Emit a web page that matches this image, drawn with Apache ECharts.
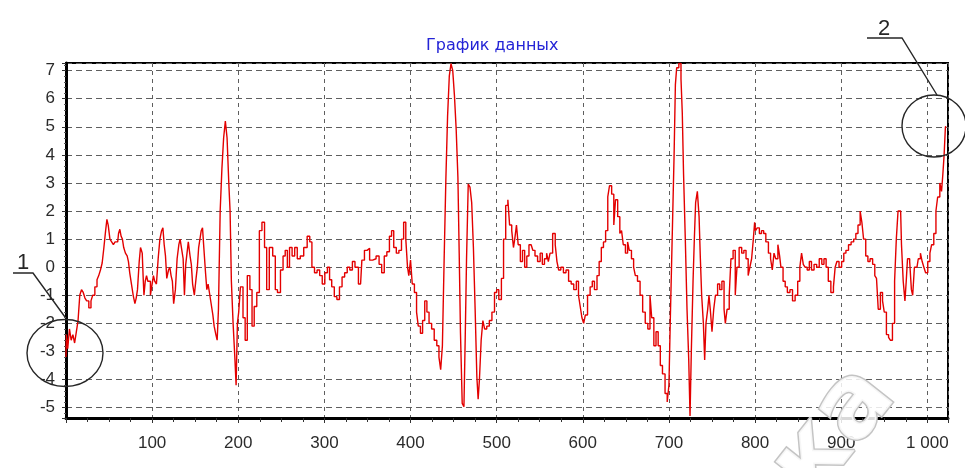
<!DOCTYPE html>
<html><head><meta charset="utf-8">
<script src="https://cdn.jsdelivr.net/npm/echarts@6/dist/echarts.min.js"></script>
<style>html,body{margin:0;padding:0;background:#fff}#c{width:965px;height:468px}</style>
</head><body><div id="c"></div>
<script>
const chartTitle = 'График данных';
const sampleX = [
0,1,3,5,7,9,11,13,15,17,19,21,23,25,28,30,32,35,37,39,41,43,45,47,48,50,52,54,56,58,60,62,63,65,66,68,70,72,73,75,77,79,81,82,84,86,87,88,89,90,91,93,94,96,97,99,101,102,104,106,108,110,112,113,115,116,118,120,121,123,124,126,128,130,132,133,135,137,138,140,141,143,145,146,148,150,152,153,155,156,158,159,161,163,164,166,168,170,171,173,175,176,178,180,182,184,186,188,190,191,193,195,197,198,
200,201,204,207,209,212,215,217,220,223,226,229,232,234,238,242,244,247,251,253,256,258,261,264,267,270,274,278,282,284,287,290,293,296,299,302,305,307,310,313,316,319,322,325,328,331,334,
337,342,345,348,351,354,358,362,365,368,371,374,377,379,382,385,388,391,393,396,397,399,401,403,406,408,410,413,415,418,420,423,426,429,432,434,436,438,440,442,444,446,448,450,452,454,456,457,459,461,463,464,466,468,470,472,474,476,478,479,481,483,485,487,490,493,496,499,501,504,
507,509,512,514,516,519,520,522,524,526,529,531,534,536,539,541,543,546,549,552,554,557,559,561,563,567,569,571,573,576,579,582,585,588,591,594,596,598,600,602,604,607,610,612,615,618,620,623,625,628,630,632,635,637,639,642,644,646,648,651,653,655,658,660,662,665,668,671,674,677,
679,681,684,686,689,691,694,697,699,701,702,704,705,707,708,710,713,715,716,718,720,722,724,725,727,729,730,732,734,736,737,739,741,742,744,746,747,749,751,753,755,758,760,763,765,766,769,771,773,776,778,780,783,786,788,791,793,795,797,799,800,801,804,806,809,811,814,817,819,821,823,825,828,829,831,834,836,839,842,845,848,851,853,855,857,859,862,864,867,870,873,876,879,881,884,886,890,892,894,896,899,902,904,907,910,913,916,918,921,923,925,927,930,932,935,938,940,942,944,947,949,951,954,956,958,961,963,965,967,969,971,973,975,976,978,981,982,984,986,988,991,993,995,997,999,1002,1004,1006,1009,1011,1013,1016,1017,1019,1020,1022
];
const sampleY = [
-3.2,-2.4,-2.9,-2.2,-2.6,-2.4,-2.7,-2.3,-1.9,-1.0,-0.8,-0.9,-1.1,-1.2,-1.45,-1.2,-1.0,-0.7,-0.45,-0.3,-0.1,0.15,0.7,1.3,1.7,1.5,1.0,0.9,0.8,0.9,0.9,1.2,1.35,1.1,1.0,0.7,0.5,0.4,0.2,-0.2,-0.6,-1.0,-1.3,-1.1,-0.8,0.2,0.7,0.6,0.5,-0.3,-1.0,-0.5,-0.3,-0.5,-0.5,-1.0,-0.6,-0.3,-0.5,-0.6,0.3,1.0,1.3,1.4,0.8,0.4,-0.4,-0.1,0.0,-0.3,-0.5,-1.3,-0.8,0.3,0.8,1.0,0.7,0.3,-1.0,0.1,0.5,0.9,0.4,0.1,-0.6,-1.0,-0.4,0.0,0.7,1.0,1.3,1.4,0.7,-0.2,-0.8,-0.6,-1.0,-1.4,-1.7,-2.1,-2.4,-2.6,-1.5,2.0,3.5,4.6,5.2,4.6,3.0,2.0,-0.5,-2.0,-3.2,-4.2,
-2.0,-1.6,-0.7,-1.8,-2.6,-0.3,-0.8,-2.1,-1.4,-0.9,1.3,1.6,0.7,-0.8,0.7,0.4,-0.8,-0.9,-0.1,0.4,0.6,0.0,0.7,0.4,0.7,0.3,0.4,0.7,1.1,0.9,0.0,-0.2,-0.1,-0.3,-0.6,-0.2,0.0,-0.45,-0.7,-1.05,-1.15,-0.7,-0.35,-0.2,0.0,-0.1,0.2,
0.0,-0.6,0.25,0.6,0.67,0.25,0.3,0.4,0.1,-0.2,0.4,0.55,1.1,1.3,0.7,0.5,0.6,1.0,1.6,1.0,0.0,-0.3,0.25,-0.6,-0.9,-1.6,-2.1,-2.35,-1.9,-1.2,-1.6,-2.0,-2.2,-2.6,-2.8,-3.2,-3.65,-2.8,0.25,3.1,5.36,6.8,7.25,7.0,6.1,4.9,3.2,0.5,-2.35,-4.85,-4.97,-2.5,0.25,2.96,2.85,2.3,0.7,-1.5,-3.9,-4.7,-4.0,-2.6,-1.9,-2.2,-2.1,-1.9,-1.6,-0.9,-0.8,-1.15,
-0.4,1.0,2.2,2.4,1.5,1.3,0.7,1.0,1.5,0.8,0.2,0.6,0.0,0.4,0.8,0.8,0.6,0.4,0.2,0.5,0.1,0.3,0.5,0.2,0.5,1.2,0.8,0.2,-0.1,0.0,-0.2,-0.1,-0.5,-0.6,-0.8,-0.5,-1.0,-1.4,-1.8,-2.0,-1.7,-1.0,-0.7,-0.5,-0.8,-0.3,0.2,0.7,0.9,1.3,2.5,2.9,2.6,1.5,2.4,1.8,1.2,1.3,0.8,0.5,0.9,0.6,0.3,0.0,-0.3,-0.5,-1.0,-1.6,-2.0,-2.2,
-1.0,-1.8,-2.8,-2.3,-2.8,-3.5,-3.8,-4.5,-4.8,-4.2,-2.0,0.0,2.0,4.0,6.5,7.1,7.25,6.7,5.5,3.3,1.0,-1.5,-3.3,-5.3,-3.0,-0.5,1.0,2.3,2.7,1.8,0.3,-1.0,-2.0,-3.3,-2.0,-1.5,-1.0,-1.5,-2.3,-1.5,-1.0,-0.6,-0.8,-0.5,-1.5,-2.0,-1.5,-1.0,0.3,0.6,-1.0,0.0,0.7,0.5,0.6,0.3,-0.3,0.0,0.3,1.0,1.6,1.3,1.4,1.2,1.3,1.2,0.9,0.5,0.3,-0.1,0.5,0.3,0.8,0.4,0.0,-0.5,-0.7,-0.9,-0.8,-1.2,-1.0,-0.5,0.0,0.5,0.1,0.0,-0.1,0.2,-0.1,0.1,0.0,0.3,0.1,0.3,0.0,-0.5,-0.9,-0.7,0.0,0.2,0.0,0.2,0.5,0.6,0.8,0.9,1.0,1.2,1.5,2.0,1.6,1.0,0.4,0.2,0.3,0.1,-0.3,-0.4,-1.5,-0.9,-1.2,-1.6,-2.4,-2.5,-2.6,-2.0,-0.5,1.0,2.0,2.0,0.8,-0.5,-1.2,-0.5,0.3,0.2,-0.8,-1.0,0.0,0.0,0.3,0.5,0.2,0.0,-0.2,0.2,0.5,0.8,1.2,2.0,2.5,3.0,2.7,3.3,4.0,5.0
];
const xTickValues = [100,200,300,400,500,600,700,800,900,1000];
const xTickLabels = ['100','200','300','400','500','600','700','800','900','1 000'];
const yTickValues = [-5,-4,-3,-2,-1,0,1,2,3,4,5,6,7];
const yTickLabels = ['-5','-4','-3','-2','-1','0','1','2','3','4','5','6','7'];
const noteLabels = ['1','2'];

const chart = echarts.init(document.getElementById('c'), null, {renderer:'canvas'});
const lineData = sampleX.map((x, i) => [x, sampleY[i]]);
const near = (v, arr) => arr.findIndex(t => Math.abs(t - v) < 1e-6);
const LBL = {color:'#2b2b2b', fontSize:17, fontFamily:'Liberation Sans, Arial, sans-serif'};
const ink = '#262626';

chart.setOption({
  animation: false,
  backgroundColor: '#fff',
  title: {
    text: chartTitle, left: 421, top: 33,
    textStyle: {color:'#2424d6', fontSize:16, fontWeight:'normal', fontFamily:'DejaVu Sans, sans-serif'}
  },
  grid: {left:66, right:17, top:63, bottom:50, show:true, borderColor:'#000', borderWidth:2, backgroundColor:'#fff'},
  xAxis: {
    type:'value', min:0, max:1024, interval:100,
    axisLine:{show:true, onZero:false, lineStyle:{color:'#000', width:3}},
    axisTick:{show:true, length:5, lineStyle:{color:'#333'}},
    minorTick:{show:true, splitNumber:4, length:4, lineStyle:{color:'#333'}},
    axisLabel:Object.assign({margin:17, showMaxLabel:true, formatter:v => { const k = near(v, xTickValues); return k < 0 ? '' : xTickLabels[k]; }}, LBL),
    splitLine:{show:true, lineStyle:{color:'#5e5e5e', type:[4,4], width:1}}
  },
  yAxis: {
    type:'value', min:-5.37, max:7.27, splitNumber:12,
    axisLine:{show:true, onZero:false, lineStyle:{color:'#000', width:3}},
    axisTick:{show:true, length:4, lineStyle:{color:'#333'}},
    minorTick:{show:true, splitNumber:5, length:2, lineStyle:{color:'#555'}},
    axisLabel:Object.assign({margin:11, formatter:v => { const k = near(v, yTickValues); return k < 0 ? '' : yTickLabels[k]; }}, LBL),
    splitLine:{show:true, lineStyle:{color:'#5e5e5e', type:[6,4], width:1}}
  },
  series: [{
    type:'line', data: lineData, showSymbol:false, symbol:'none', sampling:null, step:'middle',
    lineStyle:{color:'#e30000', width:1.4}, clip:true, z:3
  }],
  graphic: [
    {type:'ellipse', shape:{cx:65, cy:353, rx:38, ry:33.5}, style:{fill:null, stroke:ink, lineWidth:1.4}, z:100},
    {type:'polyline', shape:{points:[[13,273],[33,273],[65,317]]}, style:{fill:null, stroke:ink, lineWidth:1.4}, z:100},
    {type:'text', x:23, y:263, style:{text:noteLabels[0], font:'22px Liberation Sans, Arial, sans-serif', fill:ink, textAlign:'center', textVerticalAlign:'middle'}, z:100},
    {type:'ellipse', shape:{cx:934, cy:126, rx:32, ry:31}, style:{fill:null, stroke:ink, lineWidth:1.4}, z:100},
    {type:'polyline', shape:{points:[[867,38],[902,38],[937,95]]}, style:{fill:null, stroke:ink, lineWidth:1.4}, z:100},
    {type:'text', x:884, y:29, style:{text:noteLabels[1], font:'22px Liberation Sans, Arial, sans-serif', fill:ink, textAlign:'center', textVerticalAlign:'middle'}, z:100},
    {type:'text', x:835, y:433, rotation:0.9, style:{text:'ка', font:'bold 100px DejaVu Sans, sans-serif', fill:'rgba(255,255,255,0.85)', stroke:'#c4c4c4', lineWidth:3, textAlign:'center', textVerticalAlign:'middle'}, z:120}
  ]
});
</script>
</body></html>
